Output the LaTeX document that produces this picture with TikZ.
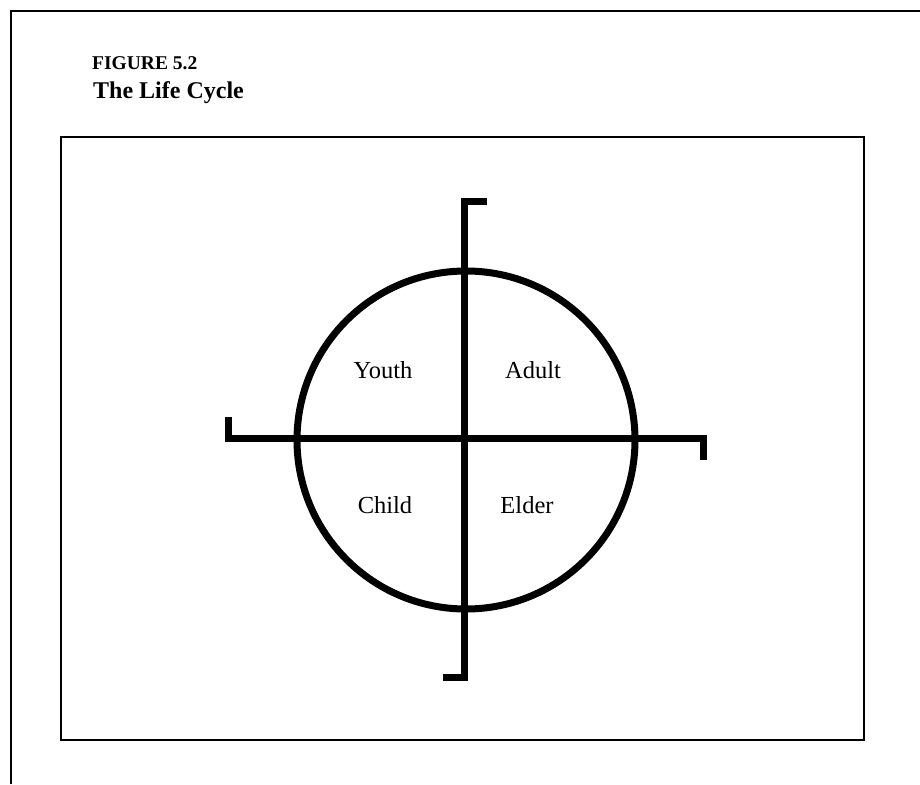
\documentclass[tikz,border=0pt]{standalone}
\usepackage{fontspec}
\setmainfont{Liberation Serif}
\begin{document}
\begin{tikzpicture}[x=1pt,y=-1pt,
  frame/.style={line width=2.5pt,black},
  axis/.style={line width=7pt,black,line join=miter,line cap=butt},
  ring/.style={circle,draw,line width=7pt,inner sep=0pt,minimum size=338pt},
  lab/.style={anchor=base,inner sep=0pt,font=\fontsize{24.5}{28}\selectfont},
  ttl/.style={anchor=base west,inner sep=0pt,font=\bfseries}]
\useasboundingbox (0,0) rectangle (920,784);
\fill[white] (0,0) rectangle (920,784);
% outer frame (left and top edges only visible)
\coordinate (fA) at (11,784);
\coordinate (fB) at (11,11);
\coordinate (fC) at (920,11);
\draw[frame] (fA) -- (fB) -- (fC);
% inner box
\coordinate (bA) at (61,137);
\coordinate (bB) at (864,740);
\draw[frame] (bA) rectangle (bB);
% title
\node[ttl,font=\bfseries\fontsize{19.5}{22}\selectfont] (fig) at (92,70) {FIGURE 5.2};
\node[ttl,font=\bfseries\fontsize{24}{27}\selectfont] (title) at (93,98) {The Life Cycle};
% circle
\node[ring] (cyc) at (466,440) {};
% axes with hooks
\coordinate (vT) at (487,201);
\coordinate (vTc) at (464,201);
\coordinate (vBc) at (464,677);
\coordinate (vB) at (443,677);
\draw[axis] (vT) -- (vTc) -- (vBc) -- (vB);
\coordinate (hL) at (228,417);
\coordinate (hLc) at (228,438);
\coordinate (hRc) at (703,438);
\coordinate (hR) at (703,460);
\draw[axis] (hL) -- (hLc) -- (hRc) -- (hR);
% labels
\node[lab] (youth) at (383,378) {Youth};
\node[lab] (adult) at (533,378) {Adult};
\node[lab] (child) at (385,513) {Child};
\node[lab] (elder) at (527,513) {Elder};
\end{tikzpicture}
\end{document}
